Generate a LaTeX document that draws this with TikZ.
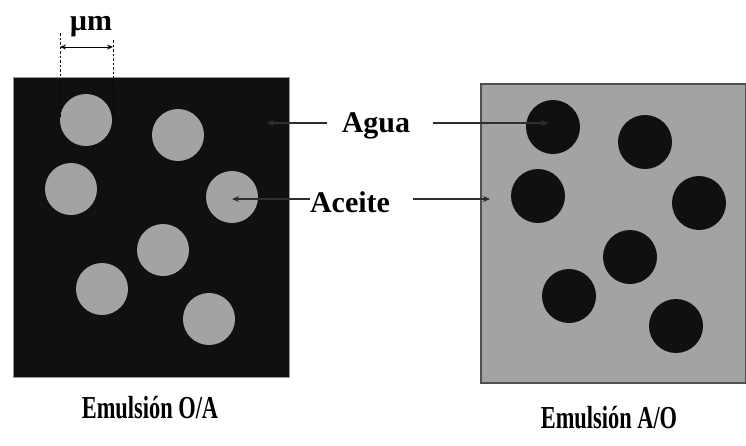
\documentclass[tikz,border=0pt]{standalone}
\usepackage{fontspec}
\setmainfont{Liberation Serif}
\usetikzlibrary{arrows.meta}
\definecolor{water}{HTML}{101010}
\definecolor{oil}{HTML}{A3A3A3}
\definecolor{edge}{HTML}{505050}
\definecolor{pointer}{HTML}{2E2E2E}
\begin{document}
\begin{tikzpicture}[x=1pt,y=-1pt,
  lbl/.style={font=\fontsize{30}{36}\selectfont\bfseries, inner sep=0pt, anchor=base},
  caption/.style={font=\fontsize{32}{38}\selectfont\bfseries, inner sep=0pt, anchor=base, xscale=0.7},
  pointerline/.style={draw=pointer, line width=1.1pt, -{Stealth[length=7pt,width=6pt]}},
  dimline/.style={draw=black, line width=1pt, {Stealth[length=6pt,width=5pt]}-{Stealth[length=6pt,width=5pt]}},
  guide/.style={draw=black, line width=0.8pt, dash pattern=on 2.5pt off 2pt}]
\useasboundingbox (0,0) rectangle (746,445);

% O/A emulsion: oil droplets in water
\filldraw[fill=water, draw=edge!60, line width=0.6pt] (13,77) rectangle (289,377);
\foreach \cx/\cy in {86/120,178/135,71/189,232/197,163/250,102/289,209/319}
  \fill[oil] (\cx,\cy) circle[radius=26pt];

% A/O emulsion: water droplets in oil
\filldraw[fill=oil, draw=edge, line width=1.6pt] (481,84) rectangle (746,383);
\foreach \cx/\cy in {553/127,645/142,538/196,699/203,630/257,569/296,676/326}
  \fill[water] (\cx,\cy) circle[radius=27pt];

% droplet size marker
\node[lbl] (um) at (91,30) {µm};
\coordinate (dl) at (60,47);
\coordinate (dr) at (113,47);
\coordinate (gl) at (60,33);
\coordinate (gr) at (113,40);
\coordinate (gle) at (60,118);
\coordinate (gre) at (113,118);
\draw[guide] (gl) -- (gle);
\draw[guide] (gr) -- (gre);
\draw[dimline] (dl) -- (dr);

% phase labels with pointers
\node[lbl] (agua) at (376,132) {Agua};
\node[lbl] (aceite) at (350,212) {Aceite};
\coordinate (aguaL) at (327,123);
\coordinate (aguaR) at (433,123);
\coordinate (aguaTipL) at (267,123);
\coordinate (aguaTipR) at (548,123);
\coordinate (aceiteL) at (310,199);
\coordinate (aceiteR) at (413,199);
\coordinate (aceiteTipL) at (232,199);
\coordinate (aceiteTipR) at (490,199);
\draw[pointerline] (aguaL) -- (aguaTipL);
\draw[pointerline] (aguaR) -- (aguaTipR);
\draw[pointerline] (aceiteL) -- (aceiteTipL);
\draw[pointerline] (aceiteR) -- (aceiteTipR);

% captions
\node[caption] (capOA) at (150,418) {Emulsión O/A};
\node[caption] (capAO) at (609,428) {Emulsión A/O};
\end{tikzpicture}
\end{document}
